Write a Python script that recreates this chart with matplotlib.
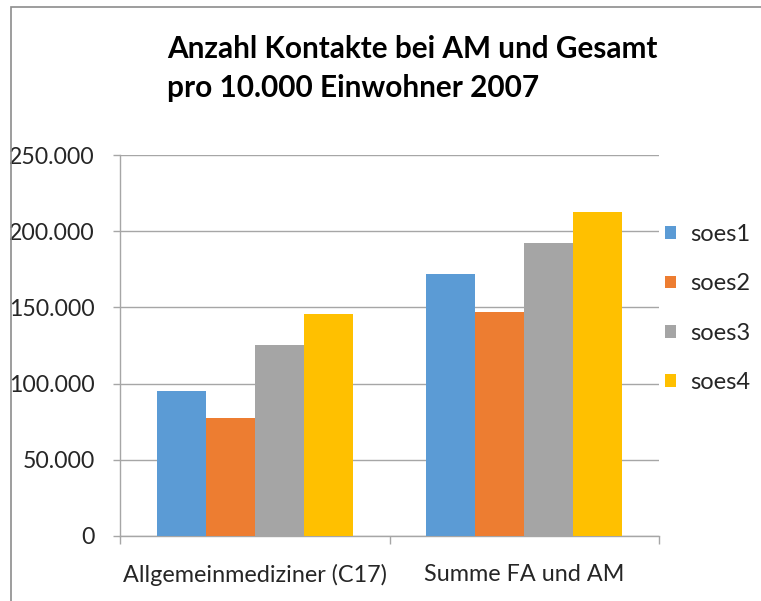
import matplotlib
matplotlib.use("Agg")
import matplotlib.pyplot as plt
from matplotlib.ticker import FuncFormatter, FixedLocator
from matplotlib.patches import Rectangle, Patch
import numpy as np

categories = ["Allgemeinmediziner (C17)", "Summe FA und AM"]
series_names = ["soes1", "soes2", "soes3", "soes4"]
soes1 = [95100, 172100]
soes2 = [77600, 146800]
soes3 = [125100, 192300]
soes4 = [145900, 212400]
series_values = [soes1, soes2, soes3, soes4]
colors = ["#5B9BD5", "#ED7D31", "#A5A5A5", "#FFC000"]
yticks = [0, 50000, 100000, 150000, 200000, 250000]
title_lines = ["Anzahl Kontakte bei AM und Gesamt", "pro 10.000 Einwohner 2007"]

plt.rcParams["font.family"] = ["Lato", "DejaVu Sans"]
W, H = 761, 601
fig = plt.figure(figsize=(W / 100, H / 100), dpi=100)

# outer chart frame
fig.patches.append(Rectangle((10.5 / W, -0.01), 1.1, 1 - 6.5 / H + 0.01,
                             transform=fig.transFigure, fill=False,
                             edgecolor="#8c8c8c", linewidth=1.2))

ax = fig.add_axes([120 / W, 1 - 536 / H, 539 / W, 381 / H])
x = np.arange(len(categories))
n = len(series_names)
bw = 1 / (n + 1.5)
for i, (name, vals, c) in enumerate(zip(series_names, series_values, colors)):
    ax.bar(x + (i - (n - 1) / 2) * bw, vals, width=bw, color=c, label=name,
           zorder=3, linewidth=0)

ax.set_xlim(-0.5, len(categories) - 0.5)
ax.set_ylim(0, 250000)
ax.set_yticks(yticks)
ax.yaxis.set_major_formatter(FuncFormatter(lambda v, p: f"{int(v):,}".replace(",", ".")))
ax.grid(axis="y", color="#a6a6a6", linewidth=1.0, zorder=0)
ax.set_xticks(x)
ax.set_xticklabels(categories)
ax.xaxis.set_minor_locator(FixedLocator(np.arange(-0.5, len(categories), 1.0)))
ax.tick_params(axis="x", which="major", length=0, pad=20, labelsize=16.8, colors="#262626")
ax.tick_params(axis="x", which="minor", length=6, width=1.0, color="#a6a6a6")
ax.tick_params(axis="y", length=5, width=1.0, color="#a6a6a6", pad=13, labelsize=16.6,
               labelcolor="#262626")
for s in ["top", "right"]:
    ax.spines[s].set_visible(False)
ax.spines["left"].set_color("#a6a6a6")
ax.spines["bottom"].set_color("#a6a6a6")
ax.spines["left"].set_linewidth(1.0)
ax.spines["bottom"].set_linewidth(1.0)

for line, yb in zip(title_lines, [58.5, 96.5]):
    fig.text(167 / W, 1 - yb / H, line, ha="left", va="baseline", fontsize=21.4,
             fontweight="bold", color="black")

handles = [Patch(facecolor=c, label=nm) for nm, c in zip(series_names, colors)]
fig.legend(handles=handles, loc="upper left", bbox_to_anchor=(665 / W, 1 - 224 / H),
           frameon=False, fontsize=17, handlelength=0.45, handleheight=0.45,
           handletextpad=0.62, labelspacing=1.2, labelcolor="#262626",
           borderpad=0, borderaxespad=0)

fig.savefig("out.png", dpi=100)
